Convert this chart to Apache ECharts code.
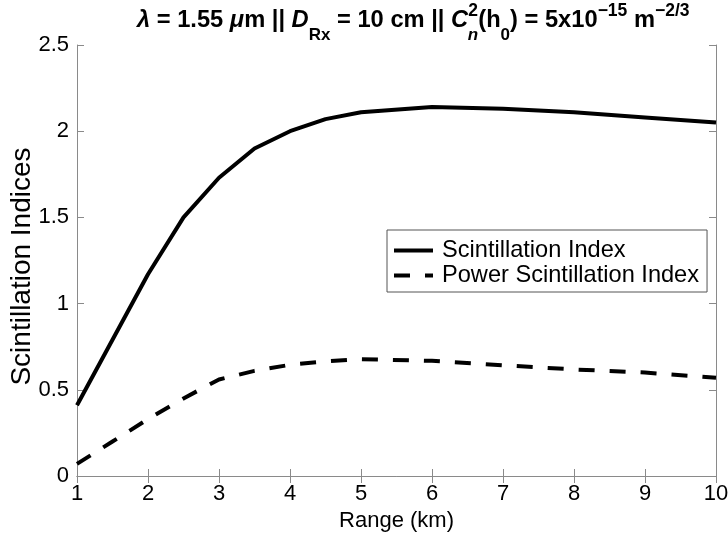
<!DOCTYPE html>
<html>
<head>
<meta charset="utf-8">
<script src="https://cdn.jsdelivr.net/npm/echarts@6/dist/echarts.min.js"></script>
<style>html,body{margin:0;padding:0;background:#fff}#c{width:728px;height:535px}</style>
</head>
<body>
<div id="c"></div>
<script>
var rangeKm = [1, 1.5, 2, 2.5, 3, 3.5, 4, 4.5, 5, 6, 7, 8, 9, 10];
var scintIndex = [0.41, 0.79, 1.17, 1.50, 1.73, 1.90, 2.00, 2.07, 2.11, 2.14, 2.13, 2.11, 2.08, 2.05];
var powerScintIndex = [0.07, 0.20, 0.33, 0.45, 0.56, 0.61, 0.645, 0.665, 0.678, 0.668, 0.642, 0.618, 0.60, 0.57];
var seriesNames = ['Scintillation Index', 'Power Scintillation Index'];
var xTitle = 'Range (km)';
var yTitle = 'Scintillation Indices';

var FONT = 'Liberation Sans, Arial, Helvetica, sans-serif';
var AX = '#8a8a8a';

function pairs(xs, ys) { return xs.map(function (x, i) { return [x, ys[i]]; }); }

var chart = echarts.init(document.getElementById('c'), null, { renderer: 'canvas' });

var base = { fontFamily: FONT, fontWeight: 'bold', fontSize: 23.7, color: '#000', lineHeight: 16, padding: [0, 0, 0, 0] };
function st(o) { var r = {}; for (var k in base) r[k] = base[k]; for (var k2 in o) r[k2] = o[k2]; return r; }

var option = {
  animation: false,
  backgroundColor: '#fff',
  title: {
    text: '{it|λ}{m| = 1.55 }{it|μ}{m|m || }{it|D}{sub|Rx}{m| = 10 cm || }{it|C}{sup2|2}{subi|n}{m|(h}{sub|0}{m|) = 5x10}{sup|−15}{m| m}{sup|−2/3}',
    left: 132,
    top: -14,
    textStyle: {
      rich: {
        m: st({ lineHeight: 58 }),
        it: st({ fontStyle: 'italic', lineHeight: 58 }),
        sub: st({ fontSize: 17, padding: [30, 0, 0, 0] }),
        subi: st({ fontSize: 17, fontStyle: 'italic', padding: [30, 0, 0, 0] }),
        sup: st({ fontSize: 17.5, padding: [0, 0, 18, 0] }),
        sup2: st({ fontSize: 17.5, padding: [0, -10, 18, 0] })
      }
    }
  },
  grid: { left: 77, right: 12, top: 45, bottom: 59, containLabel: false, outerBoundsMode: 'none' },
  legend: {
    orient: 'vertical',
    left: 387,
    top: 230,
    padding: [8, 8, 4, 5],
    itemGap: 0,
    itemWidth: 39,
    itemHeight: 14,
    borderColor: '#555',
    borderWidth: 1,
    backgroundColor: '#fff',
    data: seriesNames,
    itemStyle: { color: 'rgba(0,0,0,0)', borderWidth: 0, opacity: 0 },
    lineStyle: { width: 4 },
    textStyle: { fontFamily: FONT, fontSize: 23.6, color: '#000', lineHeight: 25, padding: [0, 0, 0, 4] }
  },
  xAxis: [{
    type: 'value', min: 1, max: 10, interval: 1,
    name: xTitle, nameLocation: 'middle', nameGap: 34, nameMoveOverlap: false,
    nameTextStyle: { fontFamily: FONT, fontSize: 22, color: '#000' },
    axisLine: { show: true, lineStyle: { color: AX, width: 1 } },
    axisTick: { show: true, inside: true, length: 7, lineStyle: { color: AX } },
    axisLabel: { fontFamily: FONT, fontSize: 22, color: '#000', margin: 7 },
    splitLine: { show: false }
  }, {
    type: 'value', min: 1, max: 10, interval: 1, position: 'top',
    axisLine: { show: true, lineStyle: { color: AX, width: 1 } },
    axisTick: { show: true, inside: true, length: 7, lineStyle: { color: AX } },
    axisLabel: { show: false },
    splitLine: { show: false }
  }],
  yAxis: [{
    type: 'value', min: 0, max: 2.5, interval: 0.5,
    name: yTitle, nameLocation: 'middle', nameGap: 41, nameRotate: 90, nameMoveOverlap: false,
    nameTextStyle: { fontFamily: FONT, fontSize: 28, color: '#000', padding: [0, 12, 0, 0] },
    axisLine: { show: true, lineStyle: { color: AX, width: 1 } },
    axisTick: { show: true, inside: true, length: 7, lineStyle: { color: AX } },
    axisLabel: { fontFamily: FONT, fontSize: 22, color: '#000', margin: 8 },
    splitLine: { show: false }
  }, {
    type: 'value', min: 0, max: 2.5, interval: 0.5, position: 'right',
    axisLine: { show: true, lineStyle: { color: AX, width: 1 } },
    axisTick: { show: true, inside: true, length: 7, lineStyle: { color: AX } },
    axisLabel: { show: false },
    splitLine: { show: false }
  }],
  series: [{
    name: seriesNames[0], type: 'line', symbol: 'none', showSymbol: false,
    data: pairs(rangeKm, scintIndex),
    lineStyle: { color: '#000', width: 4, type: 'solid' },
    itemStyle: { color: '#000' }
  }, {
    name: seriesNames[1], type: 'line', symbol: 'none', showSymbol: false,
    data: pairs(rangeKm, powerScintIndex),
    lineStyle: { color: '#000', width: 4, type: [16, 15] },
    itemStyle: { color: '#000' }
  }]
};
chart.setOption(option);
</script>
</body>
</html>
